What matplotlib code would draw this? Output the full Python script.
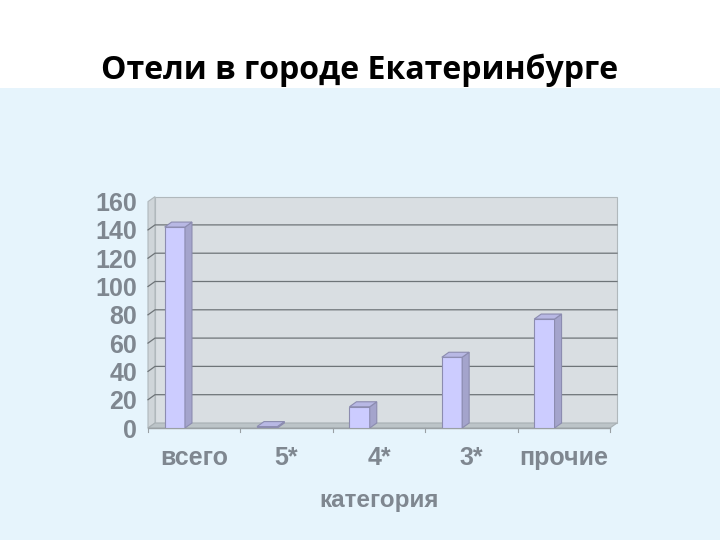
import matplotlib
matplotlib.use("Agg")
import matplotlib.pyplot as plt
from matplotlib.patches import Polygon, Rectangle

categories=["всего","5*","4*","3*","прочие"]
values=[142,1,15,50,77]
yticks=[0,20,40,60,80,100,120,140,160]

bg="#e6f4fc"
wall="#d9dee2"
floor="#bcc4c8"
front="#ccccff"
side="#a4a4cc"
top="#b8b8e4"
edge="#8c8cb0"
txt="#7f8790"

fig=plt.figure(figsize=(7.2,5.4),dpi=100)
fig.patch.set_facecolor("white")
fig.patches.append(Rectangle((0,0),1,1-88/540,transform=fig.transFigure,facecolor=bg,edgecolor="none",zorder=-10))
fig.text(0.5,1-70/540,"Отели в городе Екатеринбурге",ha="center",va="center",fontsize=23,
         family="Open Sans",weight="bold",color="black")

ax=fig.add_axes([148/720,1-428/540,462/720,226.4/540])
ax.set_xlim(-0.5,4.5)
ax.set_ylim(0,160)
ax.set_facecolor("none")
for s in ax.spines.values(): s.set_visible(False)

# depth offset in data units
dx=7/92.4
dy=5/1.415

# back wall, left wall, floor
ax.add_patch(Polygon([(-0.5+dx,dy),(4.5+dx,dy),(4.5+dx,160+dy),(-0.5+dx,160+dy)],closed=True,
                     facecolor=wall,edgecolor="#b0b8bc",lw=0.8,clip_on=False,zorder=0))
ax.add_patch(Polygon([(-0.5,0),(-0.5+dx,dy),(-0.5+dx,160+dy),(-0.5,160)],closed=True,
                     facecolor="#cfd5d9",edgecolor="#b0b8bc",lw=0.8,clip_on=False,zorder=0))
ax.add_patch(Polygon([(-0.5,0),(4.5,0),(4.5+dx,dy),(-0.5+dx,dy)],closed=True,
                     facecolor=floor,edgecolor="#a8b0b4",lw=0.8,clip_on=False,zorder=1))
for t in yticks[1:-1]:
    ax.plot([-0.5,-0.5+dx,4.5+dx],[t,t+dy,t+dy],color="#6e7478",lw=0.9,clip_on=False,zorder=1)

# bars with fake 3d sides
w=0.22
off=-0.21
for i,v in enumerate(values):
    x0=i+off-w/2
    ax.bar(i+off,v,width=w,color=front,edgecolor=edge,lw=0.8,zorder=3)
    ax.add_patch(Polygon([(x0+w,0),(x0+w+dx,dy),(x0+w+dx,v+dy),(x0+w,v)],closed=True,
                         facecolor=side,edgecolor=edge,lw=0.8,zorder=3))
    ax.add_patch(Polygon([(x0,v),(x0+w,v),(x0+w+dx,v+dy),(x0+dx,v+dy)],closed=True,
                         facecolor=top,edgecolor=edge,lw=0.8,zorder=3))

ax.plot([-0.5,4.5],[0,0],color="#9aa0a4",lw=1,clip_on=False,zorder=2)
for k in range(6):
    ax.plot([k-0.5,k-0.5],[0,-2.5],color="#9aa0a4",lw=0.8,clip_on=False)

ax.set_yticks(yticks)
ax.set_yticklabels([str(t) for t in yticks])
ax.set_xticks(range(len(categories)))
ax.set_xticklabels(categories)
ax.tick_params(axis="both",length=0,labelsize=18,labelcolor=txt)
ax.tick_params(axis="y",pad=8)
ax.tick_params(axis="x",pad=13)
for lab in ax.get_xticklabels()+ax.get_yticklabels():
    lab.set_family("Liberation Sans")
    lab.set_weight("bold")
ax.set_xlabel("категория",fontsize=17.5,color=txt,family="Liberation Sans",weight="bold",labelpad=14)

fig.savefig("out.png",dpi=100)
